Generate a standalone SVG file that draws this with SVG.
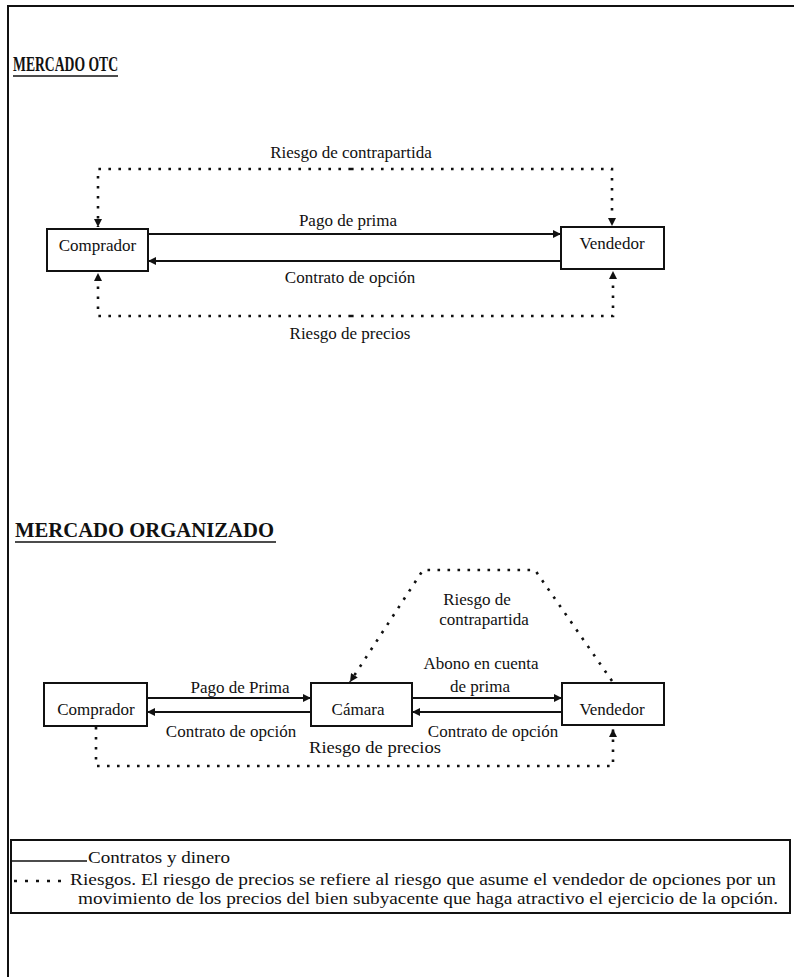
<svg xmlns="http://www.w3.org/2000/svg" width="794" height="977" viewBox="0 0 794 977">
<style>
 text{font-family:"Liberation Serif","Times New Roman",serif;fill:#111}
 .lbl{font-size:17px}
 .leg{font-size:16px}
 .mid{text-anchor:middle}
 .title{font-weight:bold}
 .box{fill:#fff;stroke:#111;stroke-width:2}
 .solid{fill:none;stroke:#111;stroke-width:2}
 .dot{fill:none;stroke:#111;stroke-width:2.6;stroke-dasharray:2.6 7.4}
 .frame{fill:none;stroke:#111;stroke-width:2}
</style>
<defs>
 <marker id="ah" viewBox="0 0 10 10" refX="10" refY="5" markerWidth="9" markerHeight="8" markerUnits="userSpaceOnUse" orient="auto"><path d="M0,0 L10,5 L0,10 z" fill="#111"/></marker>
</defs>
<path class="frame" d="M8,977 V6 H794"/>

<g id="title-otc">
 <text class="title" x="13" y="71" font-size="20" textLength="105" lengthAdjust="spacingAndGlyphs">MERCADO OTC</text>
 <line x1="13" y1="76" x2="118" y2="76" stroke="#111" stroke-width="1.6"/>
</g>

<g id="connectors-otc">
 <path class="dot" d="M351,169 H98 V227" marker-end="url(#ah)"/>
 <path class="dot" d="M351,169 H612 V226" marker-end="url(#ah)"/>
 <path class="solid" d="M148,234 H561" marker-end="url(#ah)"/>
 <path class="solid" d="M561,261 H148" marker-end="url(#ah)"/>
 <path class="dot" d="M351,316 H98 V273" marker-end="url(#ah)"/>
 <path class="dot" d="M351,316 H613 V271" marker-end="url(#ah)"/>
 <text class="lbl mid" x="351" y="158">Riesgo de contrapartida</text>
 <text class="lbl mid" x="348" y="226">Pago de prima</text>
 <text class="lbl mid" x="350" y="283">Contrato de opción</text>
 <text class="lbl mid" x="350" y="339">Riesgo de precios</text>
</g>

<g id="otc-comprador">
 <rect class="box" x="47" y="229" width="101" height="42"/>
 <text class="lbl mid" x="97.5" y="251">Comprador</text>
</g>
<g id="otc-vendedor">
 <rect class="box" x="561" y="227" width="103" height="42"/>
 <text class="lbl mid" x="612" y="249">Vendedor</text>
</g>

<g id="title-org">
 <text class="title" x="15" y="537" font-size="21" textLength="259" lengthAdjust="spacingAndGlyphs">MERCADO ORGANIZADO</text>
 <line x1="15" y1="542" x2="276" y2="542" stroke="#111" stroke-width="1.6"/>
</g>

<g id="connectors-org">
 <path class="solid" d="M147,698 H311" marker-end="url(#ah)"/>
 <path class="solid" d="M311,712 H147" marker-end="url(#ah)"/>
 <path class="solid" d="M412,698 H562" marker-end="url(#ah)"/>
 <path class="solid" d="M562,712 H412" marker-end="url(#ah)"/>
 <path class="dot" d="M612,681 L535,570 H423 L350,682" marker-end="url(#ah)"/>
 <path class="dot" d="M96,727 V766 H613 V729" marker-end="url(#ah)"/>
 <text class="lbl mid" x="240" y="693">Pago de Prima</text>
 <text class="lbl mid" x="231" y="737">Contrato de opción</text>
 <text class="lbl mid" x="481" y="669">Abono en cuenta</text>
 <text class="lbl mid" x="480" y="692">de prima</text>
 <text class="lbl mid" x="477" y="605">Riesgo de</text>
 <text class="lbl mid" x="484" y="625">contrapartida</text>
 <text class="lbl mid" x="493" y="737">Contrato de opción</text>
 <text class="lbl mid" x="375" y="753" textLength="132" lengthAdjust="spacingAndGlyphs">Riesgo de precios</text>
</g>

<g id="org-comprador">
 <rect class="box" x="44" y="683" width="103" height="43"/>
 <text class="lbl mid" x="96" y="715">Comprador</text>
</g>
<g id="org-camara">
 <rect class="box" x="311" y="683" width="101" height="43"/>
 <text class="lbl mid" x="358" y="715">Cámara</text>
</g>
<g id="org-vendedor">
 <rect class="box" x="562" y="683" width="102" height="42"/>
 <text class="lbl mid" x="612" y="715">Vendedor</text>
</g>

<g id="legend">
 <rect x="11" y="840" width="779" height="73" fill="none" stroke="#111" stroke-width="2"/>
 <line x1="12" y1="861" x2="87" y2="861" stroke="#111" stroke-width="1.6"/>
 <text x="88" y="863" font-size="17" textLength="142" lengthAdjust="spacingAndGlyphs">Contratos y dinero</text>
 <line x1="14" y1="881" x2="67" y2="881" stroke="#111" stroke-width="2.4" stroke-dasharray="3 8"/>
 <text class="leg" x="70" y="885" textLength="706" lengthAdjust="spacingAndGlyphs">Riesgos. El riesgo de precios se refiere al riesgo que asume el vendedor de opciones por un</text>
 <text class="leg" x="78" y="904" textLength="700" lengthAdjust="spacingAndGlyphs">movimiento de los precios del bien subyacente que haga atractivo el ejercicio de la opción.</text>
</g>
</svg>
